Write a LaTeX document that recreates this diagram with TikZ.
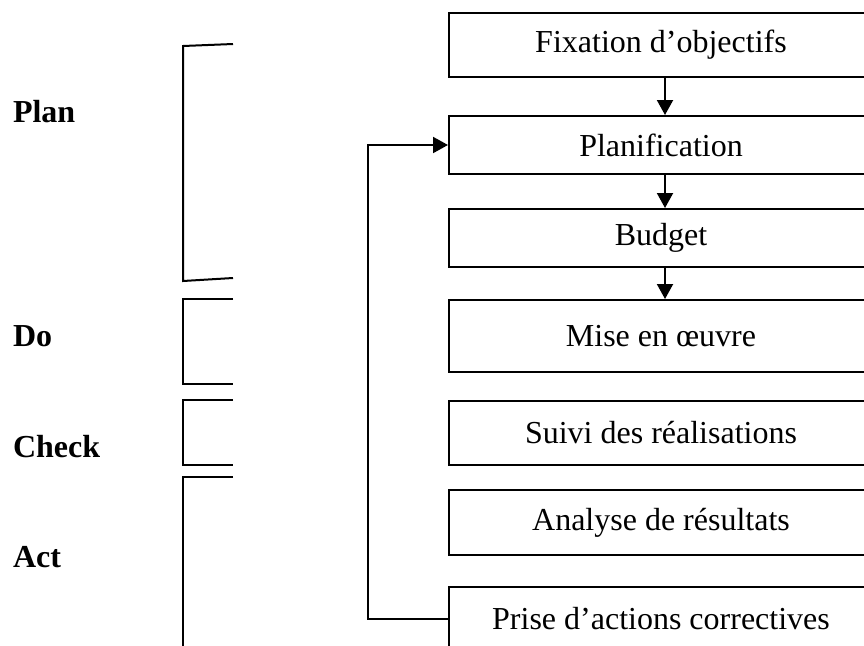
\documentclass[tikz,border=0pt]{standalone}
\usepackage{fontspec}
\setmainfont{Liberation Serif}
\usetikzlibrary{arrows.meta,calc}
\begin{document}
\begin{tikzpicture}[x=1pt,y=-1pt,
  line width=2pt,
  stage/.style={draw, rectangle, minimum width=424pt, inner sep=0pt,
    font=\fontsize{32}{38}\selectfont, anchor=north west},
  phase/.style={font=\fontsize{32}{38}\selectfont\bfseries, anchor=west, inner sep=0pt},
  flow/.style={-{Triangle[length=15pt,width=16pt]}},
  brace/.style={line width=2pt}]
\useasboundingbox (0,0) rectangle (864,645);
\clip (0,0) rectangle (864,645);

% process steps
\node[stage, minimum height=64pt] (b1) at (448,12)  {Fixation d’objectifs};
\node[stage, minimum height=58pt] (b2) at (448,115) {Planification};
\node[stage, minimum height=58pt] (b3) at (448,208) {Budget};
\node[stage, minimum height=72pt] (b4) at (448,299) {Mise en œuvre};
\node[stage, minimum height=64pt] (b5) at (448,400) {Suivi des réalisations};
\node[stage, minimum height=65pt] (b6) at (448,489) {Analyse de résultats};
\node[stage, minimum height=64pt] (b7) at (448,586) {Prise d’actions correctives};

% downward flow
\draw[flow] ([xshift=4pt]b1.south) -- ([xshift=4pt]b2.north);
\draw[flow] ([xshift=4pt]b2.south) -- ([xshift=4pt]b3.north);
\draw[flow] ([xshift=4pt]b3.south) -- ([xshift=4pt]b4.north);

% corrective feedback loop
\coordinate (lb) at (368,619);
\draw[flow] (b7.west |- lb) -- (lb) -- (lb |- b2.west) -- (b2.west);

% PDCA phase labels
\node[phase] (plan)  at (12,112) {Plan};
\node[phase] (do)    at (12,336) {Do};
\node[phase] (check) at (12,447) {Check};
\node[phase] (act)   at (12,557) {Act};

% phase brackets
\draw[brace] (233,44) -- (183,46) -- (183,281) -- (233,278);
\draw[brace] (233,299) -- (183,299) -- (183,384) -- (233,384);
\draw[brace] (233,400) -- (183,400) -- (183,465) -- (233,465);
\draw[brace] (233,477) -- (183,477) -- (183,660);
\end{tikzpicture}
\end{document}
